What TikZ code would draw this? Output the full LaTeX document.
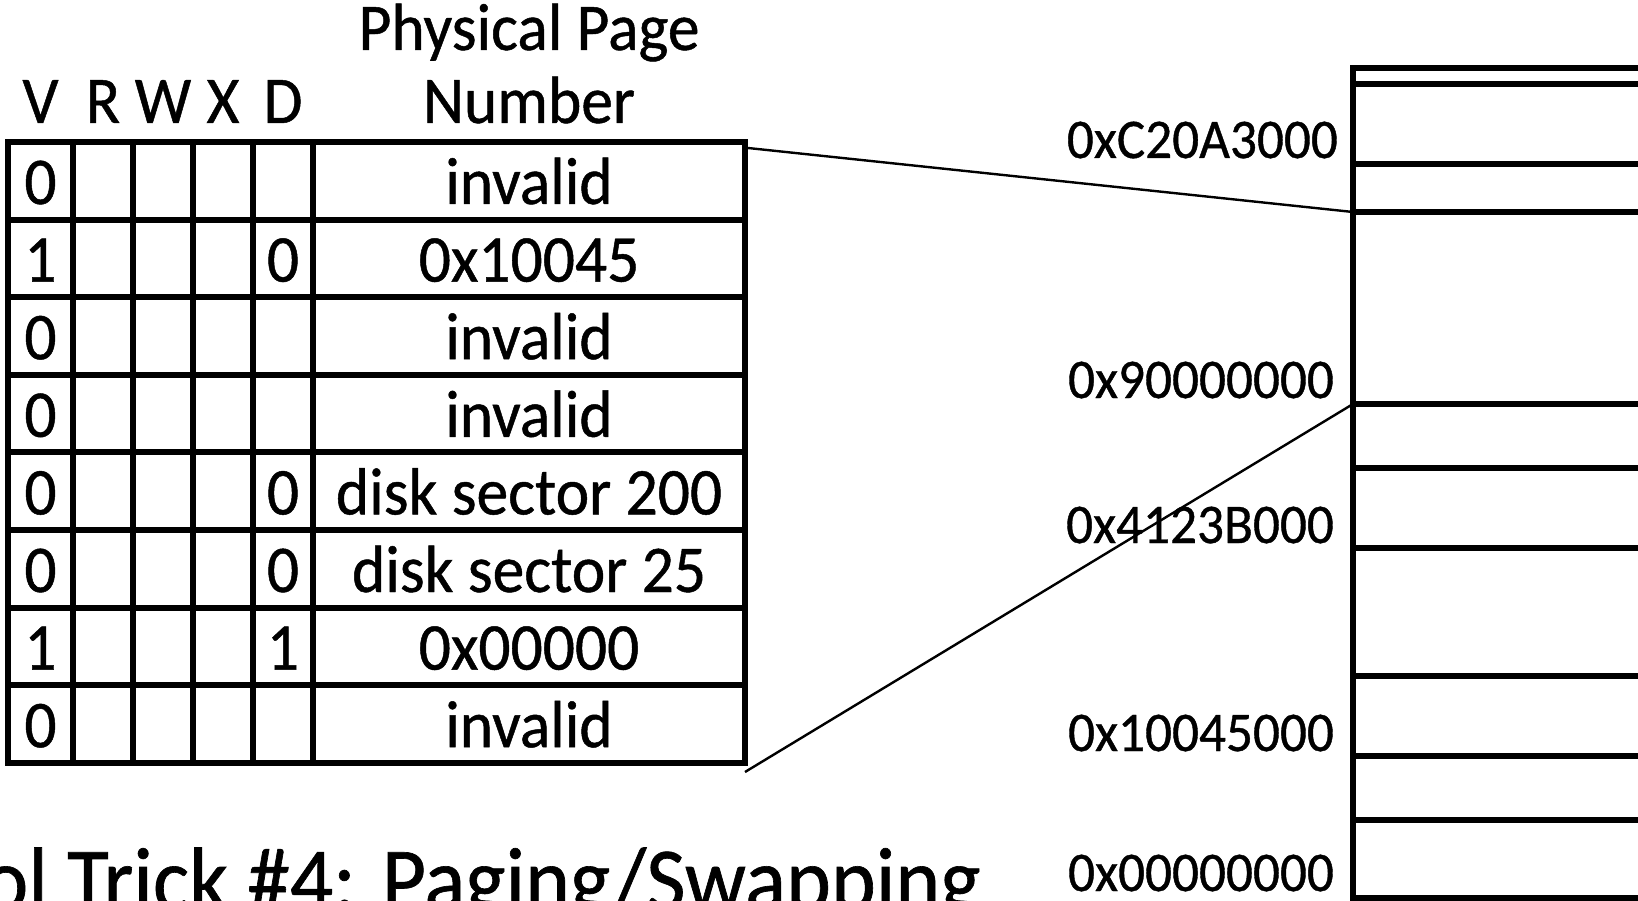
\documentclass[tikz,border=0pt]{standalone}
\usepackage{fontspec}
\setmainfont{Carlito}[FakeStretch=0.95, RawFeature={embolden=0.7}]
\usetikzlibrary{calc}

\begin{document}
\begin{tikzpicture}[x=1pt, y=-1pt,
    grid/.style={black, line width=6pt},
    link/.style={black, line width=2.4pt},
    cell/.style={inner sep=0pt, anchor=base, font=\fontsize{66.8}{70}\selectfont},
    addr/.style={inner sep=0pt, anchor=base east, font=\fontsize{56}{60}\selectfont}]

    \useasboundingbox (0,0) rectangle (1638,901);
    \clip (0,0) rectangle (1638,901);

    % page table
    \coordinate (ptNW) at (8,142);
    \coordinate (ptSE) at (745,762.8);
    \draw[grid] (ptNW) rectangle (ptSE);
    \foreach \x in {73,133,193,253,313}
        \draw[grid] (\x,142) -- (\x,762.8);
    \foreach \r in {1,...,7}
        \draw[grid] (8,142+77.6*\r) -- (745,142+77.6*\r);

    \node[cell] (hV) at (40.5,123) {V};
    \node[cell] (hR) at (103,123) {R};
    \node[cell] (hW) at (163,123) {W};
    \node[cell] (hX) at (223,123) {X};
    \node[cell] (hD) at (283,123) {D};
    \node[cell] (hPhys) at (529,50) {Physical Page};
    \node[cell] (hNum) at (529,123) {Number};

    \foreach \v/\d/\ppn [count=\i from 0] in {0//invalid, 1/0/0x10045, 0//invalid, 0//invalid,
            0/0/disk sector 200, 0/0/disk sector 25, 1/1/0x00000, 0//invalid} {
        \node[cell] (v\i) at (40.5,204+77.6*\i) {\v};
        \node[cell] (d\i) at (283,204+77.6*\i) {\d};
        \node[cell] (ppn\i) at (529,204+77.6*\i) {\ppn};
    }

    % physical memory
    \draw[grid] (1660,68) -- (1353,68) -- (1353,898) -- (1660,898);
    \foreach \y in {84,164,212,404,468,548,676,756,820}
        \draw[grid] (1353,\y) -- (1660,\y);

    \node[addr] (aC20) at (1338,158) {0xC20A3000};
    \node[addr] (a900) at (1334,398) {0x90000000};
    \node[addr] (a412) at (1334,543) {0x4123B000};
    \node[addr] (a100) at (1334,751) {0x10045000};
    \node[addr] (a000) at (1334,891) {0x00000000};

    \coordinate (ptNE) at (748,148);
    \coordinate (ptSEo) at (745,772);
    \coordinate (memC20) at (1353,212);
    \coordinate (mem900) at (1353,404);
    \draw[link] (ptNE) -- (memC20);
    \draw[link] (ptSEo) -- (mem900);

    \node[anchor=base west, inner sep=0pt, font=\fontsize{90}{95}\selectfont] (title) at (-17,910)
        {ol Trick \#4: Paging/Swapping};
\end{tikzpicture}
\end{document}
